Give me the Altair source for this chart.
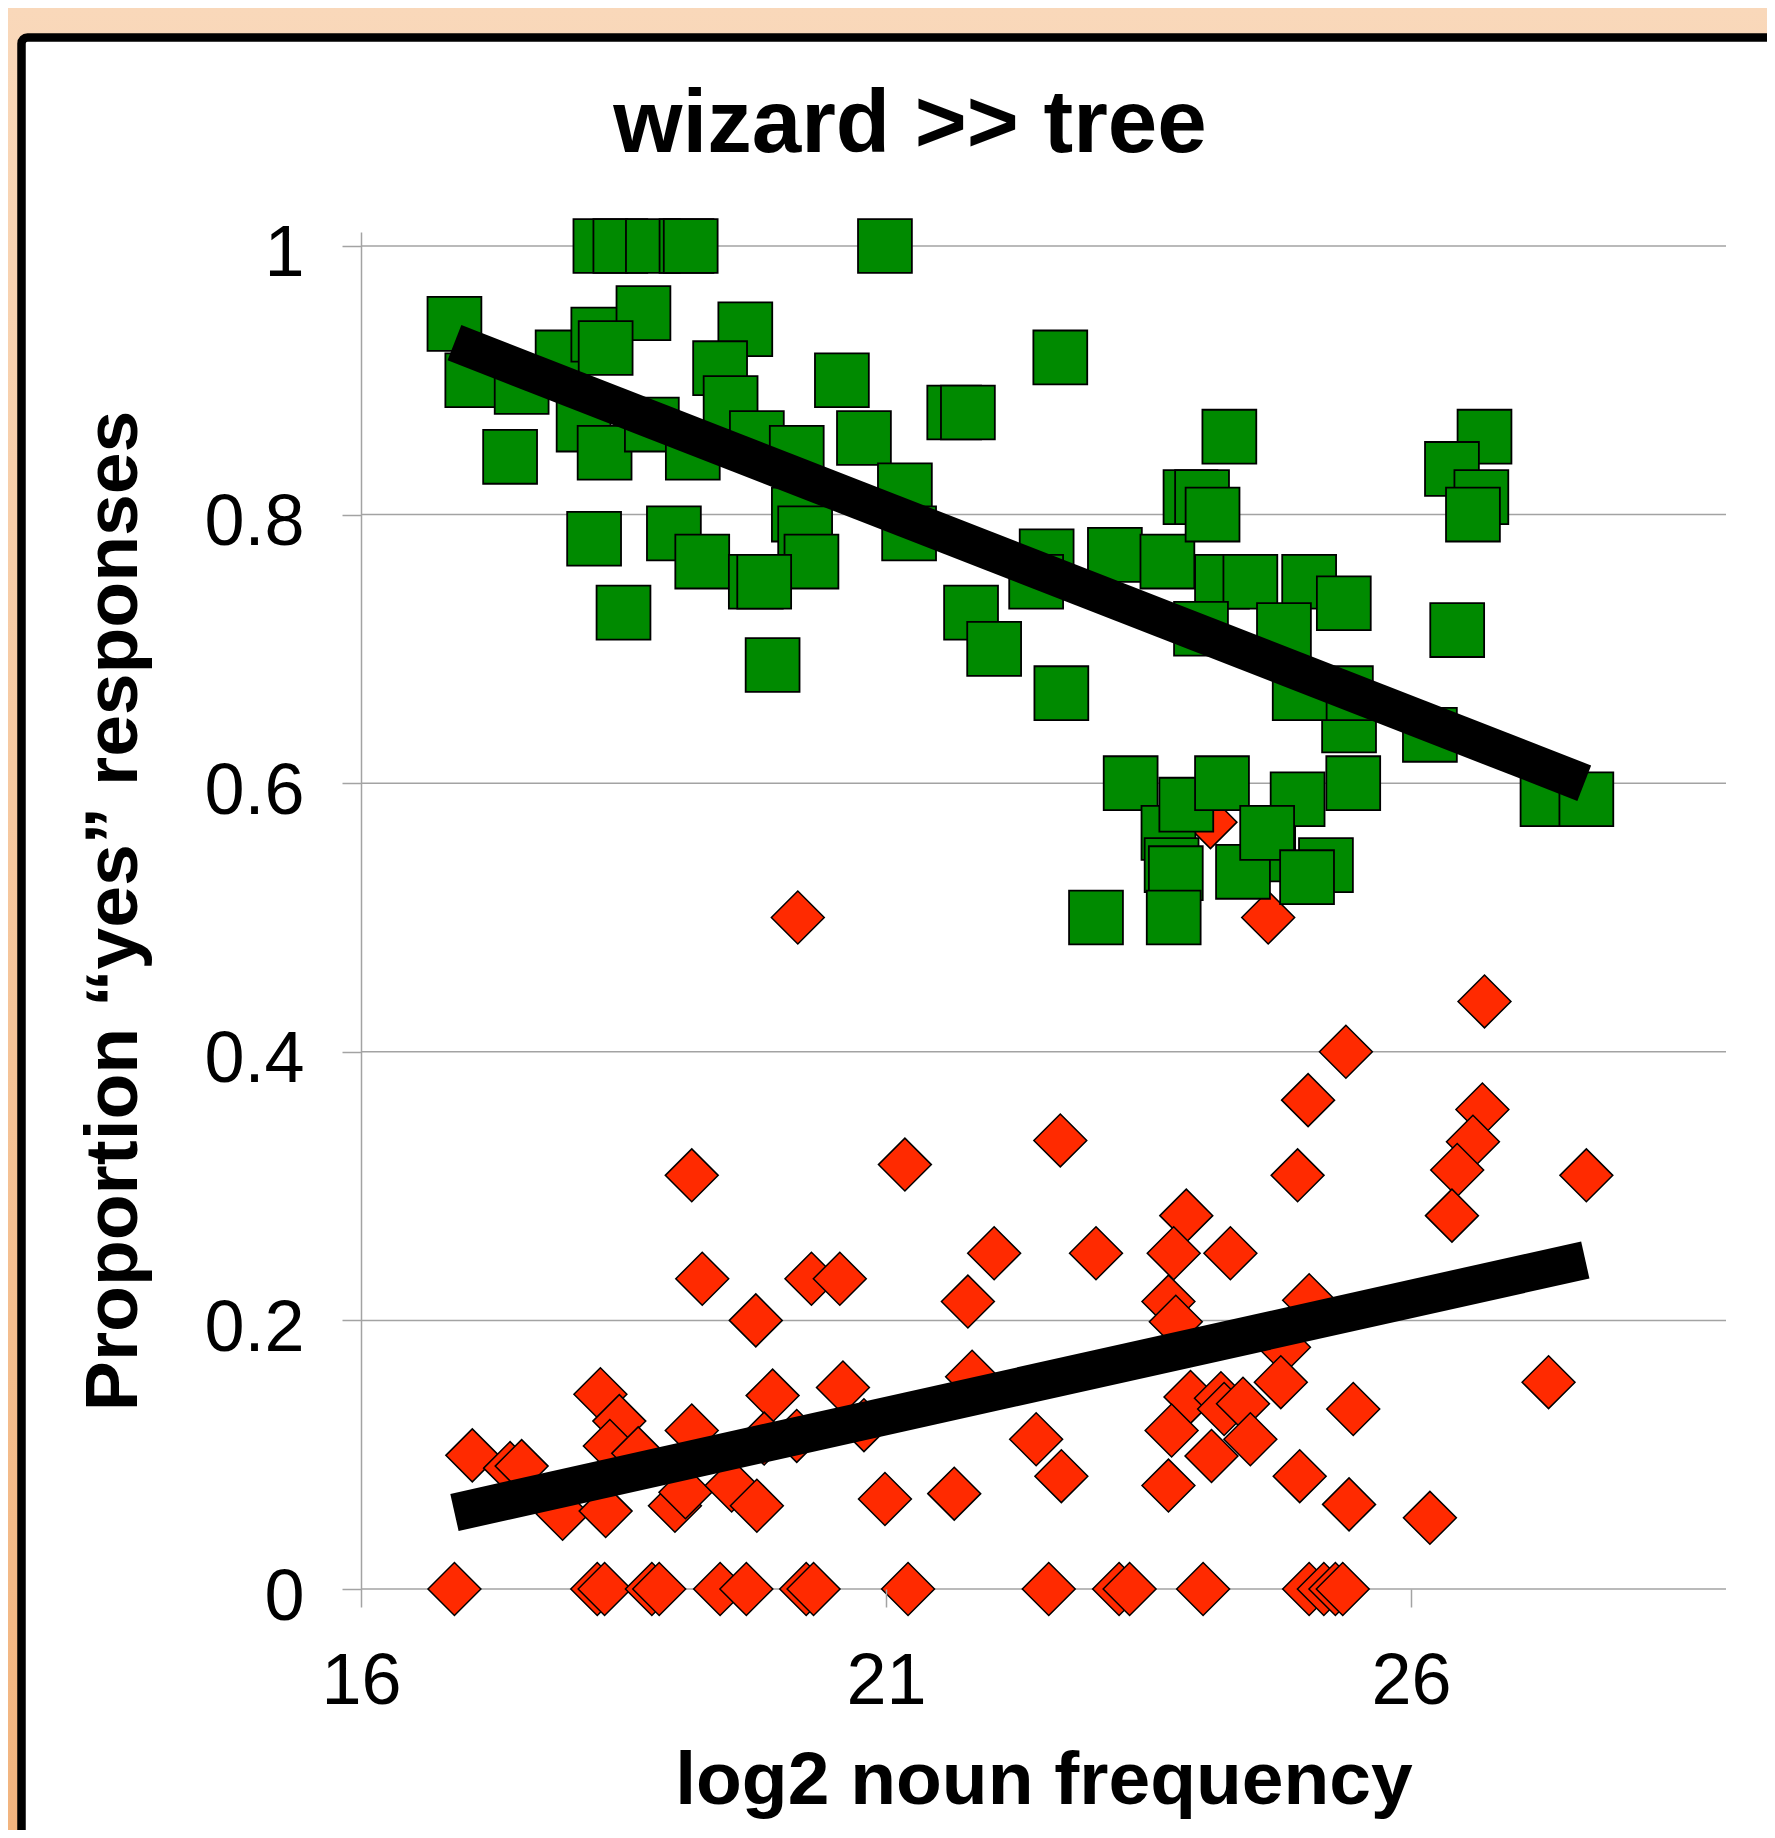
import altair as alt
import pandas as pd

FONT = "Liberation Sans"
TITLE = "wizard >> tree"
X_TITLE = "log2 noun frequency"
Y_TITLE = "Proportion \u201cyes\u201d responses"

x_ticks = [16, 21, 26]
y_ticks = [0, 0.2, 0.4, 0.6, 0.8, 1.0]
x_domain = [16, 29]
y_domain = [0, 1.0104]

green_x = [18.28, 18.47, 18.78, 19.10, 19.14, 20.99,
           16.89, 17.06, 17.42, 17.53, 17.92, 18.26, 18.69, 18.33, 18.12, 18.32, 18.77, 19.16,
           19.66, 19.42, 19.52, 19.77, 20.15, 20.58, 20.79, 20.17, 20.23, 20.29, 18.22, 18.98,
           19.25, 19.76, 19.84, 18.50, 19.92,
           21.18, 21.22, 21.65, 21.78, 22.66, 21.81, 22.03, 22.53, 22.43, 23.18, 23.68, 24.20,
           24.47, 25.03, 24.27, 23.90, 24.01, 24.11, 24.00, 24.79, 25.36, 22.67,
           26.70, 26.39, 26.67, 26.59, 26.44, 25.41, 25.38, 24.94, 26.18, 25.45, 24.92, 24.64,
           25.19, 27.30, 27.67,
           23.33, 23.69, 23.86, 24.20, 23.72, 23.76, 23.74, 23.00, 24.40, 24.63, 25.01]
green_y = [1.0, 1.0, 1.0, 1.0, 1.0, 1.0,
           0.942, 0.900, 0.843, 0.895, 0.917, 0.934, 0.950, 0.924, 0.867, 0.846, 0.867, 0.846,
           0.938, 0.909, 0.883, 0.857, 0.846, 0.900, 0.857, 0.800, 0.786, 0.765, 0.782, 0.786,
           0.765, 0.750, 0.750, 0.727, 0.688,
           0.818, 0.786, 0.876, 0.876, 0.917, 0.727, 0.700, 0.769, 0.750, 0.770, 0.765, 0.750,
           0.750, 0.750, 0.858, 0.813, 0.813, 0.800, 0.715, 0.714, 0.734, 0.667,
           0.858, 0.834, 0.813, 0.800, 0.714, 0.643, 0.667, 0.667, 0.636, 0.600, 0.588, 0.547,
           0.539, 0.588, 0.588,
           0.600, 0.563, 0.584, 0.600, 0.539, 0.533, 0.500, 0.500, 0.534, 0.563, 0.530]

red_x = [16.89, 18.25, 18.32, 18.77, 18.84, 19.42, 19.67, 20.24, 20.31, 21.21, 22.55, 23.22,
         23.32, 24.02, 25.03, 25.17, 25.28, 25.35,
         19.15, 19.25, 19.76, 20.29, 20.56, 18.28, 18.46, 17.06, 17.42, 17.53, 19.15, 19.92,
         19.84, 20.15, 17.92, 18.33, 18.99, 19.09, 19.53, 19.77, 18.37, 18.64, 20.59, 20.79,
         21.18, 22.66, 25.02, 24.92, 23.86, 23.74, 24.28, 23.00, 22.03, 21.78, 23.69, 23.76,
         25.03, 24.79, 21.82, 23.90, 24.19, 24.22, 24.40, 24.47, 24.10, 23.72, 24.76, 22.43,
         22.67, 20.99, 21.65, 23.69, 24.94,
         26.70, 25.38, 26.68, 26.59, 26.44, 26.39, 27.67, 25.45, 27.31, 25.41, 26.18,
         20.16, 24.09, 24.64]
red_y = [0, 0, 0, 0, 0, 0, 0, 0, 0, 0, 0, 0,
         0, 0, 0, 0, 0, 0,
         0.308, 0.231, 0.200, 0.231, 0.231, 0.145, 0.125, 0.0995, 0.090, 0.0915, 0.118, 0.144,
         0.112, 0.114, 0.056, 0.058, 0.062, 0.072, 0.077, 0.062, 0.1065, 0.101, 0.150, 0.122,
         0.316, 0.334, 0.364, 0.308, 0.278, 0.250, 0.250, 0.250, 0.250, 0.214, 0.214, 0.199,
         0.215, 0.180, 0.158, 0.143, 0.142, 0.134, 0.138, 0.1115, 0.099, 0.118, 0.154, 0.1115,
         0.084, 0.067, 0.071, 0.077, 0.084,
         0.4375, 0.400, 0.357, 0.333, 0.312, 0.278, 0.308, 0.134, 0.154, 0.063, 0.053,
         0.500, 0.571, 0.500]

fit_green_x = [16.89, 27.65]
fit_green_y = [0.928, 0.600]
fit_red_x = [16.89, 27.66]
fit_red_y = [0.057, 0.245]

W, H = 1365, 1357
PAD = {"left": 353, "top": 224, "right": 41, "bottom": 241}
GRID = "#A3A3A3"

x_axis = alt.Axis(values=x_ticks, grid=False, domain=False, ticks=True, tickSize=18,
                  tickColor=GRID, tickWidth=1.5, labelFont=FONT, labelFontSize=72,
                  labelColor="black", labelPadding=39, labelFlush=False, labelOverlap=False,
                  title=X_TITLE, titleFont=FONT, titleFontSize=75, titleFontWeight="bold",
                  titleColor="black", titleX=W / 2, titleY=214, titleBaseline="alphabetic",
                  titleAlign="center", zindex=1)
y_axis = alt.Axis(values=y_ticks, format="~g", grid=False, domain=True, domainColor=GRID,
                  domainWidth=1.5, ticks=True, tickSize=19, tickColor=GRID, tickWidth=1.5,
                  labelFont=FONT, labelFontSize=72, labelColor="black", labelPadding=38,
                  labelOffset=8, labelFlush=False, labelOverlap=False,
                  title=Y_TITLE, titleFont=FONT, titleFontSize=75, titleFontWeight="bold",
                  titleColor="black", titleX=-225, titleY=H / 2, titleAngle=270,
                  titleBaseline="alphabetic", titleAlign="center", zindex=1)

xs = alt.Scale(domain=x_domain, nice=False, zero=False)
ys = alt.Scale(domain=y_domain, nice=False, zero=False)

X = alt.X("x:Q", scale=xs, axis=x_axis)
Y = alt.Y("y:Q", scale=ys, axis=y_axis)

one = alt.Data(values=[{"a": 1}])

peach = alt.Chart(one).mark_rect(
    fill=alt.LinearGradient(gradient="linear",
                            stops=[alt.GradientStop(color="#F9D8BA", offset=0),
                                   alt.GradientStop(color="#F2B47E", offset=1)],
                            x1=0, x2=0, y1=0, y2=1)
).encode(x=alt.value(-PAD["left"]), x2=alt.value(W + PAD["right"]),
         y=alt.value(-PAD["top"]), y2=alt.value(H + PAD["bottom"]))

box = alt.Chart(one).mark_rect(fill="white", stroke="black", strokeWidth=8.5,
                               cornerRadius=6).encode(
    x=alt.value(-339.5), x2=alt.value(1500), y=alt.value(-194.5), y2=alt.value(1700))

grid_df = pd.DataFrame({"y": y_ticks, "x": [x_domain[0]] * len(y_ticks),
                        "x1": [x_domain[1]] * len(y_ticks)})
grid = alt.Chart(grid_df).mark_rule(color=GRID, strokeWidth=1.5).encode(
    x=X, x2="x1:Q", y=Y)

red_df = pd.DataFrame({"x": red_x, "y": red_y})
red = alt.Chart(red_df).mark_point(shape="diamond", filled=True, fill="#FF2A00",
                                   stroke="black", strokeWidth=1.5, size=2800,
                                   opacity=1).encode(x=X, y=Y)

green_df = pd.DataFrame({"x": green_x, "y": green_y})
green = alt.Chart(green_df).mark_square(fill="#008A00", stroke="black", strokeWidth=1.8,
                                        size=2900, opacity=1).encode(x=X, y=Y)

fit_df = pd.DataFrame({"x": fit_green_x + fit_red_x, "y": fit_green_y + fit_red_y,
                       "g": ["green", "green", "red", "red"]})
fits = alt.Chart(fit_df).mark_line(color="black", strokeWidth=38, strokeCap="butt").encode(
    x=X, y=Y, detail="g:N")

title_df = pd.DataFrame({"t": [TITLE]})
title = alt.Chart(title_df).mark_text(font=FONT, fontSize=89, fontWeight="bold",
                                      color="black", align="center",
                                      baseline="alphabetic").encode(
    text="t:N", x=alt.value(549), y=alt.value(-80))

chart = alt.layer(peach, box, grid, red, green, fits, title).properties(
    width=W, height=H, padding=PAD, autosize=alt.AutoSizeParams(type="none"),
    background="#F9D8BA"
).configure_view(stroke=None)

chart.save("out.html", embed_options={"renderer": "svg", "actions": False})
